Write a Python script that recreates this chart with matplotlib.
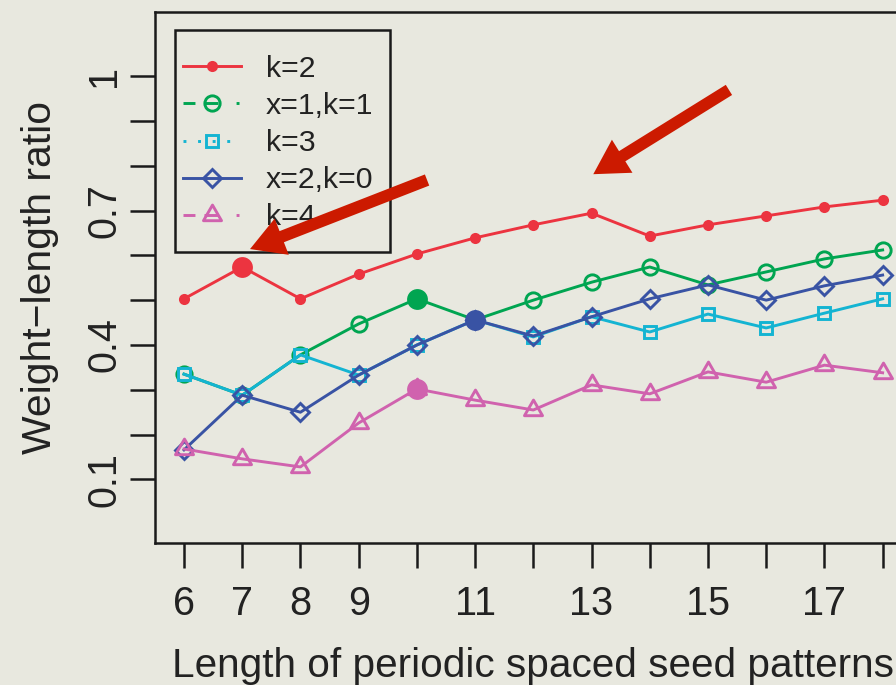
import matplotlib
matplotlib.use("Agg")
import matplotlib.pyplot as plt
from matplotlib.lines import Line2D
from matplotlib.patches import Rectangle
from matplotlib.path import Path

plt.rcParams['font.family'] = ['Liberation Sans', 'DejaVu Sans']

# ---------------- data ----------------
lengths = [6, 7, 8, 9, 10, 11, 12, 13, 14, 15, 16, 17, 18]
k2   = [0.503, 0.574, 0.503, 0.558, 0.603, 0.639, 0.668, 0.694, 0.643, 0.668, 0.688, 0.708, 0.723]
x1k1 = [0.335, 0.288, 0.378, 0.447, 0.503, 0.456, 0.500, 0.540, 0.574, 0.534, 0.563, 0.592, 0.612]
k3   = [0.335, 0.288, 0.378, 0.333, 0.400, 0.456, 0.418, 0.463, 0.429, 0.469, 0.438, 0.471, 0.503]
x2k0 = [0.166, 0.288, 0.250, 0.333, 0.400, 0.456, 0.420, 0.463, 0.503, 0.534, 0.500, 0.532, 0.556]
k4   = [0.168, 0.146, 0.128, 0.226, 0.302, 0.277, 0.255, 0.311, 0.291, 0.340, 0.317, 0.355, 0.338]

series_labels = ['k=2', 'x=1,k=1', 'k=3', 'x=2,k=0', 'k=4']
series_values = [k2, x1k1, k3, x2k0, k4]
highlight_length = {'k=2': 7, 'x=1,k=1': 10, 'x=2,k=0': 11, 'k=4': 10}

x_tick_labels = ['6', '7', '8', '9', '', '11', '', '13', '', '15', '', '17', '']
y_ticks = [0.1, 0.2, 0.3, 0.4, 0.5, 0.6, 0.7, 0.8, 0.9, 1.0]
y_tick_labels = ['0.1', '', '', '0.4', '', '', '0.7', '', '', '1']

# arrows (annotation positions in data units)
arrow_tails = [(10.175, 0.768), (15.36, 0.969)]
arrow_tips = [(7.134, 0.614), (13.03, 0.781)]

# ---------------- style ----------------
bg = '#e8e8df'
axc = '#1a1a1a'
tc = '#222222'
arrow_color = '#cc1a00'
colors = ['#ec3440', '#00a551', '#14b4d2', '#3953a4', '#d062ae']
tri = Path([(-1, -0.577), (1, -0.577), (0, 1.155), (-1, -0.577)],
           [Path.MOVETO, Path.LINETO, Path.LINETO, Path.CLOSEPOLY])
markers = ['o', 'o', 's', 'D', tri]
msizes = [8, 11, 8.6, 9.0, 15]
filled = [True, False, False, False, False]
dotdash = (0, (4.1, 3.1, 4.8, 6.2, 1, 6))
legend_ls = ['-', dotdash, (0, (1, 4)), '-', dotdash]
lw = 2.1
mew = 2.1

fig = plt.figure(figsize=(8.96, 6.85), dpi=100, facecolor=bg)
ax = fig.add_axes([155 / 896, 142 / 685, (910 - 155) / 896, (543 - 12) / 685])
ax.set_facecolor(bg)

for i, (lab, vals) in enumerate(zip(series_labels, series_values)):
    c = colors[i]
    ax.plot(lengths, vals, color=c, lw=lw, marker=markers[i], ms=msizes[i],
            mfc=c if filled[i] else 'none', mec=c, mew=0 if filled[i] else mew,
            zorder=2 + i)

for i, (lab, vals) in enumerate(zip(series_labels, series_values)):
    if lab in highlight_length:
        hl = highlight_length[lab]
        ax.plot([hl], [vals[lengths.index(hl)]], marker='o', ms=15, color=colors[i],
                mew=0, ls='none', zorder=10)

ax.set_xlim(5.502, 18.47)
ax.set_ylim(-0.0417, 1.1428)

ax.set_xticks(lengths, x_tick_labels)
ax.set_yticks(y_ticks, y_tick_labels)
ax.tick_params(axis='both', length=18, width=1.8, color=axc, labelsize=28.5, labelcolor=tc)
ax.tick_params(axis='x', pad=12)
ax.tick_params(axis='y', pad=5)
for t in ax.get_yticklabels():
    t.set_rotation(90)
    t.set_va('center')

for s in ax.spines.values():
    s.set_linewidth(1.8)
    s.set_color(axc)

ax.set_xlabel('Length of periodic spaced seed patterns', fontsize=29.2, color=tc)
ax.xaxis.set_label_coords(0.5, -0.196)
ax.set_ylabel('Weight\u2212length ratio', fontsize=29.4, color=tc)
ax.yaxis.set_label_coords(-0.1277, 0.5)

handles = []
for i in range(5):
    c = colors[i]
    handles.append(Line2D([], [], color=c, lw=lw, ls=legend_ls[i], marker=markers[i],
                          ms=msizes[i], mfc=c if filled[i] else 'none', mec=c,
                          mew=0 if filled[i] else mew, dash_capstyle='butt'))
leg = ax.legend(handles, series_labels, loc='upper left', bbox_to_anchor=(0.0371, 0.9190),
                frameon=False, borderpad=0, borderaxespad=0, handlelength=1.9,
                handletextpad=0.84, labelspacing=0.3, fontsize=21.8, labelcolor=tc)
leg.set_zorder(12)
ax.add_patch(Rectangle((0.0265, 0.548), 0.2848, 0.418, transform=ax.transAxes,
                       fill=False, lw=1.8, ec=axc, zorder=12))

for tail, tip in zip(arrow_tails, arrow_tips):
    ax.annotate('', xy=tip, xytext=tail, xycoords='data', textcoords='data',
                annotation_clip=False, zorder=20,
                arrowprops=dict(arrowstyle='simple,head_length=2.45,head_width=2.8,tail_width=0.86',
                                mutation_scale=10, color=arrow_color, lw=0,
                                shrinkA=0, shrinkB=0))

fig.savefig('out.png', dpi=100, facecolor=bg)
